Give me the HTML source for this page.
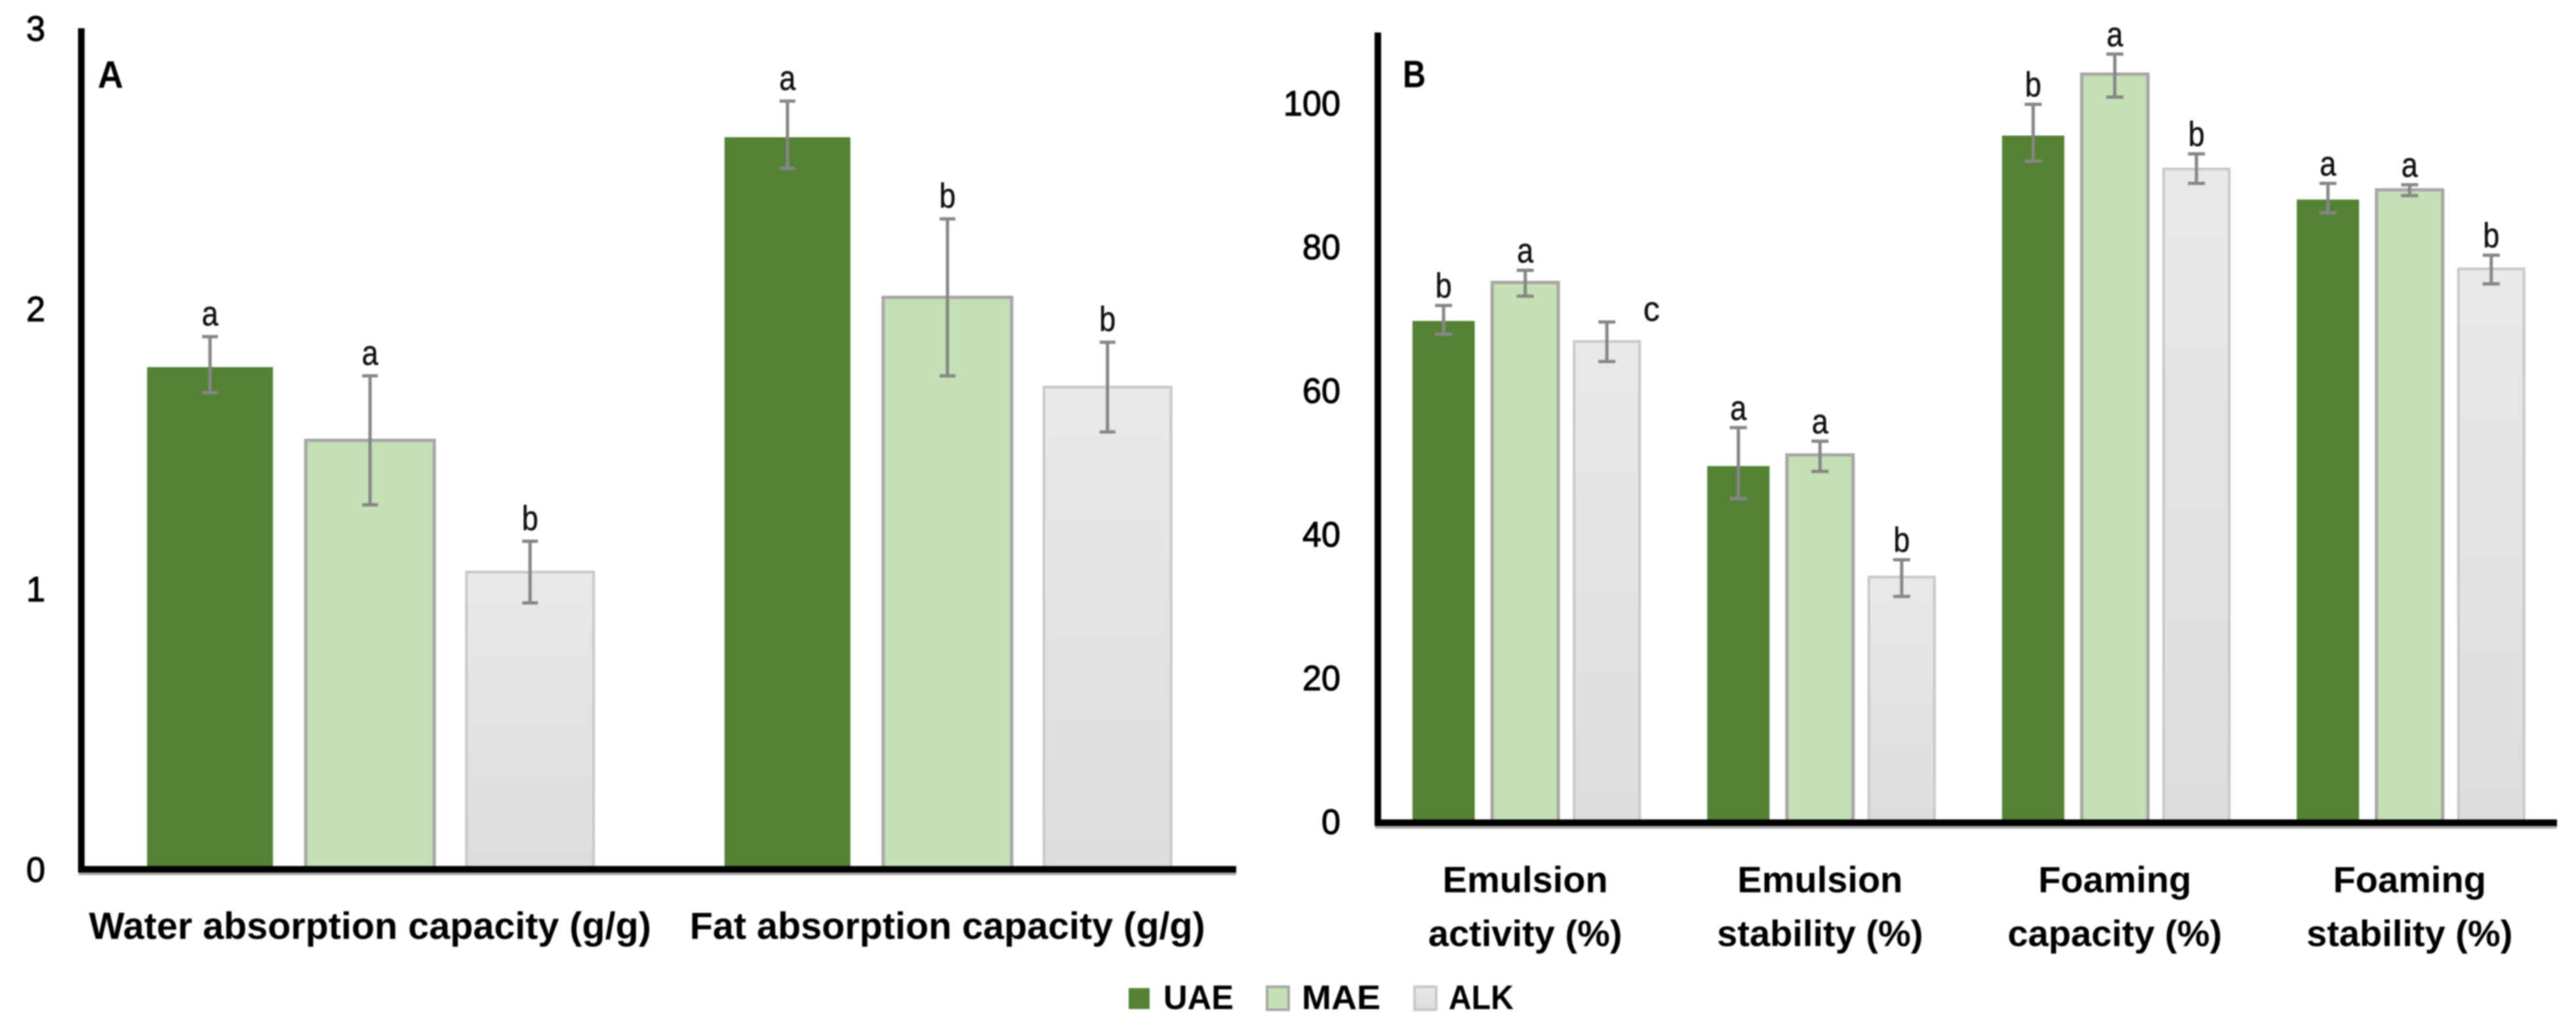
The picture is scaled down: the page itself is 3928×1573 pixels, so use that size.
<!DOCTYPE html>
<html lang="en">
<head>
<meta charset="utf-8">
<title>Functional properties of UAE, MAE and ALK extracts</title>
<style>
  html, body { margin: 0; padding: 0; background: #fff; }
  body { width: 3928px; height: 1573px; overflow: hidden; }
  #figure { display: block; filter: blur(1px); }
  text { font-family: "Liberation Sans", sans-serif; fill: #000; }
  .tick { font-size: 54px; stroke: #000; stroke-width: 1.2px; }
  .cat-a { font-size: 57.5px; font-weight: 700; }
  .cat-b { font-size: 56px; font-weight: 700; }
  .panel { font-size: 58px; font-weight: 700; }
  .sig { font-size: 53px; fill: #111; stroke: #111; stroke-width: 0.6px; }
  .legend-text { font-size: 52px; font-weight: 700; }
</style>
</head>
<body>
<svg id="figure" xmlns="http://www.w3.org/2000/svg" width="3928" height="1573" viewBox="0 0 3928 1573">
  <defs>
    <linearGradient id="alk-gradient" x1="0" y1="0" x2="0" y2="1">
      <stop offset="0" stop-color="#E9E9E9"/>
      <stop offset="1" stop-color="#DDDDDD"/>
    </linearGradient>
  </defs>
  <rect x="0" y="0" width="3928" height="1573" fill="#fff"/>
  <g id="panel-a"></g>
  <g id="panel-b"></g>
  <text class="panel" x="149" y="134" textLength="39" lengthAdjust="spacingAndGlyphs">A</text>
  <text class="panel" x="2139" y="133" textLength="35" lengthAdjust="spacingAndGlyphs">B</text>
  <g>
    <g>
      <rect x="1721" y="1506" width="32" height="32" fill="#548235"/>
      <text class="legend-text" x="1774" y="1538" textLength="107" lengthAdjust="spacingAndGlyphs">UAE</text>
    </g>
    <g>
      <rect x="1932" y="1504" width="33" height="35" fill="#C5E0B4" stroke="#A6A6A6" stroke-width="4"/>
      <text class="legend-text" x="1985" y="1538" textLength="120" lengthAdjust="spacingAndGlyphs">MAE</text>
    </g>
    <g>
      <rect x="2157" y="1504" width="33" height="35" fill="url(#alk-gradient)" stroke="#C8C8C8" stroke-width="4"/>
      <text class="legend-text" x="2209" y="1538" textLength="99" lengthAdjust="spacingAndGlyphs">ALK</text>
    </g>
  </g>
</svg>
<script>
// ---- Panel A data ----
var categoriesA = [["Water absorption capacity (g/g)"], ["Fat absorption capacity (g/g)"]];
var ticksA = [0, 1, 2, 3];
var uaeA = [1.79, 2.61];
var maeA = [1.53, 2.04];
var alkA = [1.06, 1.72];
var uaeHighA = [1.90, 2.74];
var uaeLowA = [1.70, 2.50];
var maeHighA = [1.76, 2.32];
var maeLowA = [1.30, 1.76];
var alkHighA = [1.17, 1.88];
var alkLowA = [0.95, 1.56];
var uaeLettersA = ["a", "a"];
var maeLettersA = ["a", "b"];
var alkLettersA = ["b", "b"];

// ---- Panel B data ----
var categoriesB = [["Emulsion", "activity (%)"], ["Emulsion", "stability (%)"], ["Foaming", "capacity (%)"], ["Foaming", "stability (%)"]];
var ticksB = [0, 20, 40, 60, 80, 100];
var uaeB = [69.8, 49.6, 95.6, 86.7];
var maeB = [75.2, 51.2, 104.2, 88.1];
var alkB = [67.0, 34.2, 91.0, 77.1];
var uaeHighB = [72.0, 55.0, 100.0, 89.0];
var uaeLowB = [68.0, 45.1, 92.1, 84.9];
var maeHighB = [76.9, 53.1, 107.0, 88.8];
var maeLowB = [73.3, 48.9, 101.0, 87.3];
var alkHighB = [69.7, 36.6, 93.1, 79.0];
var alkLowB = [64.2, 31.5, 89.0, 75.0];
var uaeLettersB = ["b", "a", "b", "a"];
var maeLettersB = ["a", "a", "a", "a"];
var alkLettersB = ["c", "b", "b", "b"];

var SVG_NS = "http://www.w3.org/2000/svg";

function make(tag, attrs, parent) {
  var node = document.createElementNS(SVG_NS, tag);
  for (var key in attrs) { node.setAttribute(key, attrs[key]); }
  parent.appendChild(node);
  return node;
}

function drawPanel(cfg) {
  var root = document.getElementById(cfg.rootId);
  var n = cfg.categories.length;
  var band = (cfg.axisRight - cfg.axisLeft) / n;
  function xCenter(i) { return cfg.axisLeft + band * (i + 0.5); }
  function yPos(v) { return cfg.baseline - (v / cfg.maxValue) * (cfg.baseline - cfg.top); }

  cfg.series.forEach(function (s, sIdx) {
    s.values.forEach(function (value, i) {
      var cx = xCenter(i) + (sIdx - 1) * cfg.step;
      var top = yPos(value);
      var bar = make("rect", {
        x: cx - s.width / 2,
        y: top,
        width: s.width,
        height: Math.max(0, cfg.baseline - top),
        fill: s.fill,
        stroke: s.stroke,
        "stroke-width": s.strokeWidth
      }, root);
      
      
    });
  });

  cfg.series.forEach(function (s, sIdx) {
    s.values.forEach(function (value, i) {
      var cx = xCenter(i) + (sIdx - 1) * cfg.step;
      var yHigh = yPos(s.high[i]);
      var yLow = yPos(s.low[i]);
      var err = make("path", {
        d: "M" + (cx - cfg.cap) + " " + yHigh + "H" + (cx + cfg.cap) +
           "M" + cx + " " + yHigh + "V" + yLow +
           "M" + (cx - cfg.cap) + " " + yLow + "H" + (cx + cfg.cap),
        fill: "none",
        stroke: "#868686",
        "stroke-width": 5
      }, root);
      
      

      var letter = s.letters[i];
      var isSideLetter = letter === "c";
      var sig = make("text", {
        "class": "sig",
        x: cx + (isSideLetter ? 68 : 0),
        y: yHigh - (isSideLetter ? 2 : cfg.letterGap),
        "text-anchor": "middle",
        textLength: 25,
        lengthAdjust: "spacingAndGlyphs"
      }, root);
      sig.textContent = letter;
      
      
    });
  });

  var shadow = make("rect", {
    x: cfg.axisLeft - 4, y: cfg.baseline + 4, width: cfg.axisRight - cfg.axisLeft + 4, height: 5, fill: "#ABABAB"
  }, root);
  
  

  var yAxis = make("rect", {
    x: cfg.axisLeft - 5, y: cfg.top, width: 10, height: cfg.baseline - cfg.top + 5, fill: "#000"
  }, root);
  
  

  var xAxis = make("rect", {
    x: cfg.axisLeft - 5, y: cfg.baseline - 5, width: cfg.axisRight - cfg.axisLeft + 5, height: 10, fill: "#000"
  }, root);
  
  

  cfg.ticks.forEach(function (t) {
    var label = make("text", {
      "class": "tick",
      x: cfg.tickRight,
      y: yPos(t) + cfg.tickDrop,
      "text-anchor": "end",
      textLength: String(t).length * 29,
      lengthAdjust: "spacingAndGlyphs"
    }, root);
    label.textContent = String(t);
    
    
  });

  cfg.categories.forEach(function (lines, i) {
    lines.forEach(function (line, li) {
      var label = make("text", {
        "class": cfg.catClass,
        x: xCenter(i),
        y: cfg.catBaseline + li * cfg.catLeading,
        "text-anchor": "middle"
      }, root);
      label.textContent = line;
      
      
    });
  });
}

var alkFill = "url(#alk-gradient)";

drawPanel({
  key: "a", rootId: "panel-a",
  categories: categoriesA, ticks: ticksA, maxValue: 3,
  axisLeft: 124, axisRight: 1885, baseline: 1325, top: 43,
  step: 244, cap: 12, letterGap: 17, tickRight: 69, tickDrop: 19,
  catClass: "cat-a", catBaseline: 1431, catLeading: 0,
  series: [
    { name: "uae", values: uaeA, high: uaeHighA, low: uaeLowA, letters: uaeLettersA, width: 191, fill: "#548235", stroke: "#548235", strokeWidth: 1 },
    { name: "mae", values: maeA, high: maeHighA, low: maeLowA, letters: maeLettersA, width: 196, fill: "#C5E0B4", stroke: "#A6A6A6", strokeWidth: 5 },
    { name: "alk", values: alkA, high: alkHighA, low: alkLowA, letters: alkLettersA, width: 194, fill: alkFill, stroke: "#C8C8C8", strokeWidth: 4 }
  ]
});

drawPanel({
  key: "b", rootId: "panel-b",
  categories: categoriesB, ticks: ticksB, maxValue: 110,
  axisLeft: 2101, axisRight: 3899, baseline: 1254, top: 49.5,
  step: 124.5, cap: 13, letterGap: 12, tickRight: 2044, tickDrop: 17,
  catClass: "cat-b", catBaseline: 1360, catLeading: 82,
  series: [
    { name: "uae", values: uaeB, high: uaeHighB, low: uaeLowB, letters: uaeLettersB, width: 94, fill: "#548235", stroke: "#548235", strokeWidth: 1 },
    { name: "mae", values: maeB, high: maeHighB, low: maeLowB, letters: maeLettersB, width: 101, fill: "#C5E0B4", stroke: "#A6A6A6", strokeWidth: 5 },
    { name: "alk", values: alkB, high: alkHighB, low: alkLowB, letters: alkLettersB, width: 100, fill: alkFill, stroke: "#C8C8C8", strokeWidth: 4 }
  ]
});
</script>
</body>
</html>
